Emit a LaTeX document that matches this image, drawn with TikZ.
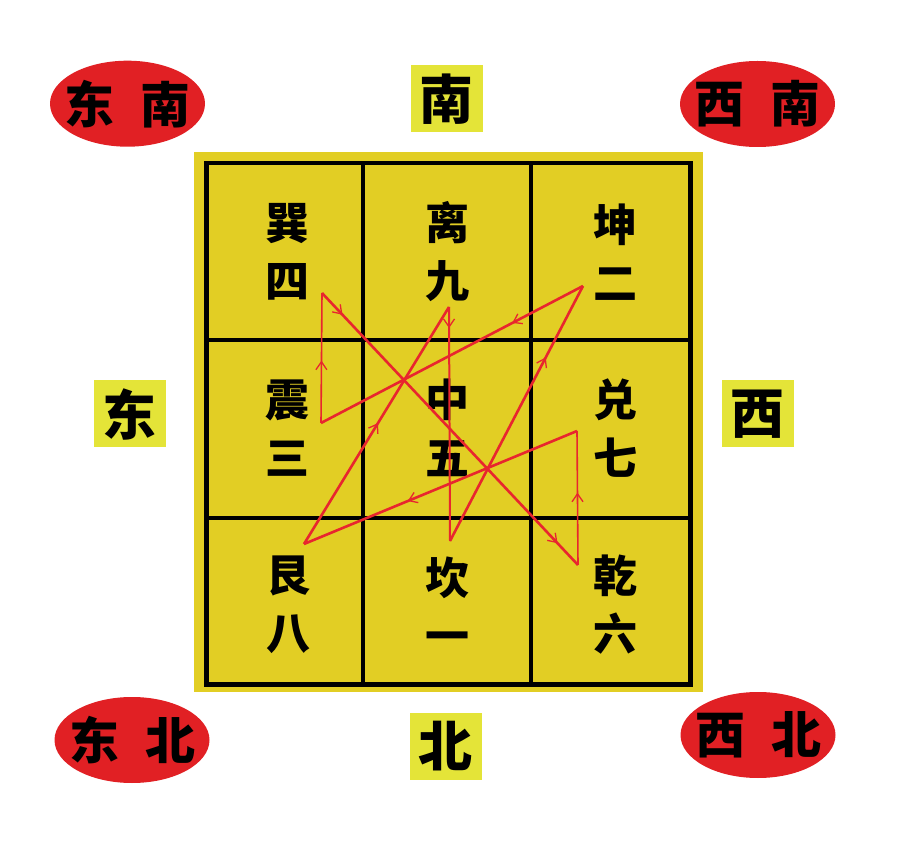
\documentclass[tikz,border=0pt]{standalone}
\usepackage{fontspec}
\setmainfont{Noto Sans CJK SC}
\usetikzlibrary{decorations.markings,arrows.meta,shapes.geometric}
\definecolor{gridyel}{RGB}{226,206,36}
\definecolor{labyel}{RGB}{228,228,56}
\definecolor{ovalred}{RGB}{225,32,36}
\definecolor{pathred}{RGB}{232,38,46}
\tikzset{
 oval/.style={ellipse, fill=ovalred, minimum width=155pt, minimum height=86pt, inner sep=0pt,
   font=\fontsize{50}{50}\selectfont\bfseries},
 dirbox/.style={fill=labyel, minimum width=72pt, minimum height=67pt, inner sep=0pt,
   font=\fontsize{54}{54}\selectfont\bfseries},
 cellchar/.style={inner sep=0pt, align=center, font=\fontsize{44}{58}\selectfont\bfseries},
 flow/.style={pathred, line width=2.6pt},
 thinflow/.style={pathred, line width=1.6pt},
 midarrow/.style={postaction={decorate}, decoration={markings,
   mark=at position #1 with {\arrow{Straight Barb[length=8pt,width=11pt,line width=1.3pt]}}}},
}
\newcommand{\ovaltext}[2]{\makebox[0pt]{#1\hspace{26pt}#2}}
\begin{document}
\begin{tikzpicture}[x=1pt,y=-1pt]
\useasboundingbox (0,0) rectangle (900,858);
% yellow board
\fill[gridyel] (193.5,152) rectangle (702.5,691.5);
% grid
\draw[line width=4.5pt] (206.5,163) rectangle (690.5,684.5);
\draw[line width=3.5pt] (363,163) -- (363,684.5);
\draw[line width=3.5pt] (531,163) -- (531,684.5);
\draw[line width=3.5pt] (206.5,340) -- (690.5,340);
\draw[line width=3.5pt] (206.5,518) -- (690.5,518);
% cell texts
\node[cellchar] (xun)  at (287,252) {巽\\四};
\node[cellchar] (li)   at (447,252) {离\\九};
\node[cellchar] (kun)  at (615,252) {坤\\二};
\node[cellchar] (zhen) at (287,428) {震\\三};
\node[cellchar] (zhong) at (447,428) {中\\五};
\node[cellchar] (dui)  at (615,428) {兑\\七};
\node[cellchar] (gen)  at (288,605) {艮\\八};
\node[cellchar] (kan)  at (447,605) {坎\\一};
\node[cellchar] (qian) at (615,605) {乾\\六};
% direction labels
\node[dirbox] (s) at (446.5,99) {南};
\node[dirbox] (e) at (129.5,414) {东};
\node[dirbox] (w) at (757.5,414) {西};
\node[dirbox] (n) at (445.5,746) {北};
\node[oval] (se) at (127.5,103.7) {\ovaltext{东}{南}};
\node[oval] (sw) at (757.5,104) {\ovaltext{西}{南}};
\node[oval] (ne) at (132,740) {\ovaltext{东}{北}};
\node[oval] (nw) at (758,735) {\ovaltext{西}{北}};
% Lo Shu path
\coordinate (p1) at (450,541);
\coordinate (p2) at (583,286);
\coordinate (p3) at (321,423);
\coordinate (p4) at (322,293);
\coordinate (p5) at (450,429);
\coordinate (p6) at (578,565);
\coordinate (p7) at (577,431);
\coordinate (p8) at (304,544);
\coordinate (p9) at (449,307);
\draw[flow, midarrow=0.72] (p1) -- (p2);
\draw[flow, midarrow=0.27] (p2) -- (p3);
\draw[thinflow, midarrow=0.48] (p3) -- (p4);
\draw[flow, midarrow=0.16] (p4) -- (p5);
\draw[flow, midarrow=0.84] (p5) -- (p6);
\draw[thinflow, midarrow=0.54] (p6) -- (p7);
\draw[flow, midarrow=0.62] (p7) -- (p8);
\draw[flow, midarrow=0.51] (p8) -- (p9);
\draw[thinflow, line width=2pt, midarrow=0.09] (p9) -- (p1);
\end{tikzpicture}
\end{document}
